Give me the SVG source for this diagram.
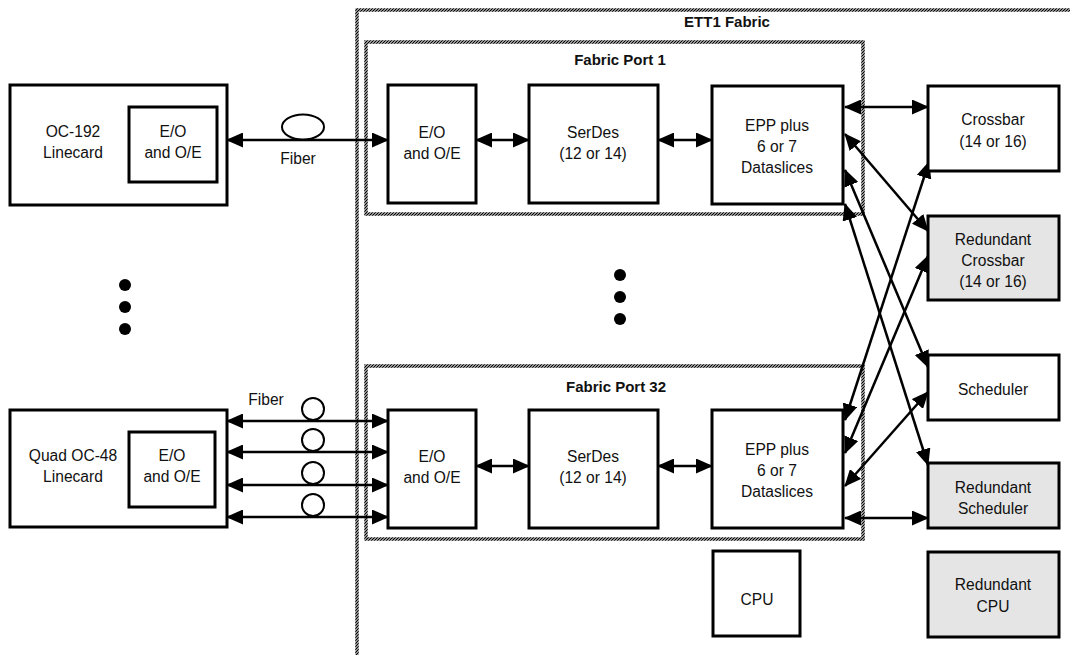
<svg xmlns="http://www.w3.org/2000/svg" width="1070" height="655" viewBox="0 0 1070 655">
<style>
.box{fill:#fff;stroke:#000;stroke-width:3}
.gray{fill:#e5e5e5;stroke:#000;stroke-width:3}
.hatch{fill:none;stroke:url(#hp);stroke-width:3.5}
.t{font-family:"Liberation Sans",Arial,sans-serif;font-size:15.6px;text-anchor:middle;fill:#111}
.b{font-family:"Liberation Sans",Arial,sans-serif;font-size:15px;font-weight:bold;text-anchor:middle;fill:#111}
.c{fill:none;stroke:#000;stroke-width:2.5;marker-start:url(#ah);marker-end:url(#ah)}
.fib{fill:#fff;stroke:#000;stroke-width:2}
</style>
<defs>
<pattern id="hp" patternUnits="userSpaceOnUse" width="3" height="3">
<rect width="3" height="3" fill="#fff"/>
<path d="M-1,1 L1,-1 M0,3 L3,0 M2,4 L4,2" stroke="#000" stroke-width="1.25"/>
</pattern>
<marker id="ah" viewBox="0 0 17 15" refX="16" refY="7.5" markerWidth="17" markerHeight="15" markerUnits="userSpaceOnUse" orient="auto-start-reverse">
<path d="M0,0 L17,7.5 L0,15 z" fill="#000"/>
</marker>
</defs>

<g id="ett1-fabric">
<rect class="hatch" x="357" y="10" width="760" height="700"/>
<text class="b" x="727" y="27">ETT1 Fabric</text>
</g>
<g id="fabric-port-1">
<rect class="hatch" x="366" y="42" width="497" height="172"/>
<text class="b" x="620" y="65">Fabric Port 1</text>
</g>
<g id="fabric-port-32">
<rect class="hatch" x="366" y="366" width="497" height="173"/>
<text class="b" x="616" y="392">Fabric Port 32</text>
</g>

<g id="connectors">
<line class="c" x1="227" y1="140" x2="388" y2="140"/>
<line class="c" x1="476" y1="140" x2="529" y2="140"/>
<line class="c" x1="658" y1="140" x2="712" y2="140"/>
<line class="c" x1="227" y1="421" x2="388" y2="421"/>
<line class="c" x1="227" y1="452" x2="388" y2="452"/>
<line class="c" x1="227" y1="485" x2="388" y2="485"/>
<line class="c" x1="227" y1="517" x2="388" y2="517"/>
<line class="c" x1="476" y1="466" x2="529" y2="466"/>
<line class="c" x1="658" y1="466" x2="712" y2="466"/>
<line class="c" x1="845" y1="107" x2="928" y2="107"/>
<line class="c" x1="845" y1="134" x2="928" y2="231"/>
<line class="c" x1="845" y1="170" x2="928" y2="367"/>
<line class="c" x1="845" y1="204" x2="928" y2="465"/>
<line class="c" x1="845" y1="420" x2="929" y2="162"/>
<line class="c" x1="845" y1="453" x2="928" y2="256"/>
<line class="c" x1="845" y1="486" x2="928" y2="392"/>
<line class="c" x1="845" y1="518" x2="928" y2="518"/>
<ellipse class="fib" cx="303" cy="127" rx="21" ry="12.5"/>
<circle class="fib" cx="313" cy="409" r="11"/>
<circle class="fib" cx="313" cy="440" r="11"/>
<circle class="fib" cx="313" cy="473" r="11"/>
<circle class="fib" cx="313" cy="505" r="11"/>
<text class="t" x="298" y="164">Fiber</text>
<text class="t" x="266" y="405">Fiber</text>
</g>

<g id="oc192-linecard">
<rect class="box" x="10" y="85" width="217" height="120"/>
<text class="t" x="73" y="137">OC-192</text>
<text class="t" x="73" y="158">Linecard</text>
</g>
<g id="oc192-eo">
<rect class="box" x="129" y="107" width="88" height="75"/>
<text class="t" x="173" y="137">E/O</text>
<text class="t" x="173" y="158">and O/E</text>
</g>
<g id="quad-oc48-linecard">
<rect class="box" x="10" y="410" width="217" height="117"/>
<text class="t" x="73" y="461">Quad OC-48</text>
<text class="t" x="73" y="482">Linecard</text>
</g>
<g id="quad-eo">
<rect class="box" x="129" y="432" width="86" height="75"/>
<text class="t" x="172" y="461">E/O</text>
<text class="t" x="172" y="482">and O/E</text>
</g>

<g id="eo-1">
<rect class="box" x="388" y="85" width="88" height="118"/>
<text class="t" x="432" y="138">E/O</text>
<text class="t" x="432" y="159">and O/E</text>
</g>
<g id="serdes-1">
<rect class="box" x="529" y="85" width="129" height="118"/>
<text class="t" x="593" y="138">SerDes</text>
<text class="t" x="593" y="159">(12 or 14)</text>
</g>
<g id="epp-1">
<rect class="box" x="712" y="86" width="131" height="118"/>
<text class="t" x="777" y="131">EPP plus</text>
<text class="t" x="777" y="152">6 or 7</text>
<text class="t" x="777" y="173">Dataslices</text>
</g>

<g id="eo-32">
<rect class="box" x="388" y="410" width="88" height="118"/>
<text class="t" x="432" y="462">E/O</text>
<text class="t" x="432" y="483">and O/E</text>
</g>
<g id="serdes-32">
<rect class="box" x="529" y="410" width="129" height="118"/>
<text class="t" x="593" y="462">SerDes</text>
<text class="t" x="593" y="483">(12 or 14)</text>
</g>
<g id="epp-32">
<rect class="box" x="712" y="410" width="131" height="118"/>
<text class="t" x="777" y="455">EPP plus</text>
<text class="t" x="777" y="476">6 or 7</text>
<text class="t" x="777" y="497">Dataslices</text>
</g>
<g id="cpu">
<rect class="box" x="713" y="551" width="87" height="85"/>
<text class="t" x="757" y="605">CPU</text>
</g>

<g id="crossbar">
<rect class="box" x="928" y="86" width="131" height="85"/>
<text class="t" x="993" y="125">Crossbar</text>
<text class="t" x="993" y="147">(14 or 16)</text>
</g>
<g id="redundant-crossbar">
<rect class="gray" x="928" y="216" width="131" height="84"/>
<text class="t" x="993" y="245">Redundant</text>
<text class="t" x="993" y="266">Crossbar</text>
<text class="t" x="993" y="287">(14 or 16)</text>
</g>
<g id="scheduler">
<rect class="box" x="928" y="355" width="131" height="65"/>
<text class="t" x="993" y="395">Scheduler</text>
</g>
<g id="redundant-scheduler">
<rect class="gray" x="928" y="463" width="131" height="65"/>
<text class="t" x="993" y="493">Redundant</text>
<text class="t" x="993" y="514">Scheduler</text>
</g>
<g id="redundant-cpu">
<rect class="gray" x="928" y="552" width="131" height="85"/>
<text class="t" x="993" y="590">Redundant</text>
<text class="t" x="993" y="612">CPU</text>
</g>

<g id="dots-left">
<circle cx="125" cy="285" r="6"/>
<circle cx="125" cy="307" r="6"/>
<circle cx="125" cy="329" r="6"/>
</g>
<g id="dots-middle">
<circle cx="620" cy="275" r="6"/>
<circle cx="620" cy="297" r="6"/>
<circle cx="620" cy="319" r="6"/>
</g>
</svg>
